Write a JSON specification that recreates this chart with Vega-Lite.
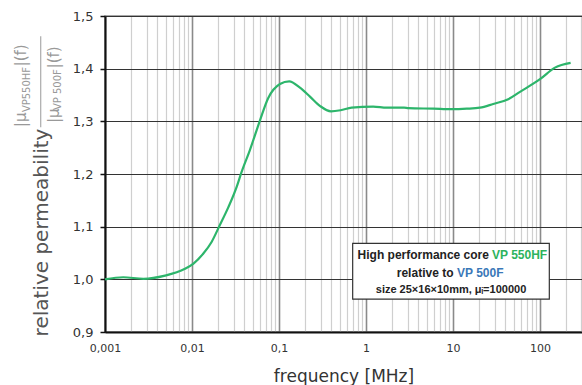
{
  "$schema": "https://vega.github.io/schema/vega-lite/v6.json",
  "width": 477,
  "height": 316,
  "autosize": {"type": "none"},
  "padding": {"left": 105, "top": 16, "right": 0, "bottom": 53},
  "background": "white",
  "config": {"view": {"stroke": "#8a8a8a", "strokeWidth": 1.5}, "font": "DejaVu Sans"},
  "datasets": {
    "curve": [
      {"f": 0.001, "v": 1.0},
      {"f": 0.00162, "v": 1.004},
      {"f": 0.00276, "v": 1.001},
      {"f": 0.0049, "v": 1.007},
      {"f": 0.0083, "v": 1.02},
      {"f": 0.0104, "v": 1.03},
      {"f": 0.0135, "v": 1.049},
      {"f": 0.0168, "v": 1.071},
      {"f": 0.0209, "v": 1.103},
      {"f": 0.0262, "v": 1.137},
      {"f": 0.0327, "v": 1.176},
      {"f": 0.037, "v": 1.203},
      {"f": 0.0464, "v": 1.246},
      {"f": 0.0605, "v": 1.302},
      {"f": 0.075, "v": 1.344},
      {"f": 0.1026, "v": 1.371},
      {"f": 0.131, "v": 1.376},
      {"f": 0.174, "v": 1.364},
      {"f": 0.227, "v": 1.347},
      {"f": 0.297, "v": 1.329},
      {"f": 0.396, "v": 1.319},
      {"f": 0.51, "v": 1.321},
      {"f": 0.685, "v": 1.326},
      {"f": 1.21, "v": 1.328},
      {"f": 1.73, "v": 1.326},
      {"f": 2.74, "v": 1.326},
      {"f": 3.07, "v": 1.325},
      {"f": 5.94, "v": 1.324},
      {"f": 9.67, "v": 1.323},
      {"f": 14.4, "v": 1.324},
      {"f": 20.4, "v": 1.326},
      {"f": 29, "v": 1.333},
      {"f": 43.2, "v": 1.342},
      {"f": 58.9, "v": 1.356},
      {"f": 100, "v": 1.38},
      {"f": 148.6, "v": 1.402},
      {"f": 225, "v": 1.411}
    ],
    "box": [{"f": 0.703, "f2": 128, "v": 1.0683, "v2": 0.9626}],
    "darkText": [
      {"f": 25.9, "v": 1.0461, "t": "High performance core"},
      {"f": 10.13, "v": 1.0114, "t": "relative to"}
    ],
    "greenText": [{"f": 28.1, "v": 1.0461, "t": "VP 550HF"}],
    "blueText": [{"f": 11.12, "v": 1.0114, "t": "VP 500F"}],
    "sizeText": [{"f": 9.49, "v": 0.9797, "t": "size 25×16×10mm, μᵢ=100000"}],
    "fracLine": [{"f": 0.0001824, "v": 1.4617, "v2": 1.289}],
    "fracMain": [
      {"f": 0.0001097, "v": 1.289, "t": "|μ"},
      {"f": 0.0001097, "v": 1.4043, "t": "|(f)"},
      {"f": 0.000256, "v": 1.2966, "t": "|μ"},
      {"f": 0.000256, "v": 1.4005, "t": "|(f)"}
    ],
    "fracSub": [
      {"f": 0.0001269, "v": 1.3175, "t": "VP550HF"},
      {"f": 0.0002883, "v": 1.3213, "t": "VP 500F"}
    ]
  },
  "layer": [
    {
      "data": {"name": "box"},
      "mark": {"type": "rect", "fill": "white", "stroke": "#333333", "strokeWidth": 1.2},
      "encoding": {
        "x": {"field": "f", "type": "quantitative", "scale": {"type": "log", "domain": [0.001, 304], "nice": false},
          "axis": {
            "title": "frequency [MHz]", "titleFont": "DejaVu Sans", "titleFontSize": 17, "titleFontWeight": "normal", "titleColor": "#333333", "titlePadding": 15,
            "values": [0.001, 0.002, 0.003, 0.004, 0.005, 0.006, 0.007, 0.008, 0.009, 0.01, 0.02, 0.03, 0.04, 0.05, 0.06, 0.07, 0.08, 0.09, 0.1, 0.2, 0.3, 0.4, 0.5, 0.6, 0.7, 0.8, 0.9, 1, 2, 3, 4, 5, 6, 7, 8, 9, 10, 20, 30, 40, 50, 60, 70, 80, 90, 100, 200, 300],
            "labelExpr": "abs(log(datum.value)/LN10 - round(log(datum.value)/LN10)) < 0.001 ? replace(format(datum.value, '~g'), '.', ',') : ''",
            "labelFont": "DejaVu Sans", "labelFontSize": 11, "labelColor": "#333333", "labelPadding": 10,
            "labelOverlap": false, "labelFlush": false, "labelBound": false,
            "ticks": false, "tickSize": 0, "domainColor": "#111111", "domainWidth": 2,
            "grid": true,
            "gridColor": {"condition": {"test": "abs(log(datum.value)/LN10 - round(log(datum.value)/LN10)) < 0.001", "value": "#8a8a8a"}, "value": "#cfcfcf"},
            "gridWidth": {"condition": {"test": "abs(log(datum.value)/LN10 - round(log(datum.value)/LN10)) < 0.001", "value": 1.6}, "value": 1.2}
          }},
        "x2": {"field": "f2"},
        "y": {"field": "v", "type": "quantitative", "scale": {"domain": [0.9, 1.5], "nice": false, "zero": false},
          "axis": {
            "title": "relative permeability", "titleFont": "DejaVu Sans", "titleFontSize": 20, "titleFontWeight": "normal", "titleColor": "#555555",
            "titleAngle": 270, "titleX": -58, "titleY": 216, "titleAlign": "center", "titleBaseline": "alphabetic",
            "values": [0.9, 0.95, 1.0, 1.05, 1.1, 1.15, 1.2, 1.25, 1.3, 1.35, 1.4, 1.45, 1.5],
            "labelExpr": "abs(datum.value*10 - round(datum.value*10)) < 0.01 ? replace(format(datum.value, '.1f'), '.', ',') : ''",
            "labelFont": "DejaVu Sans", "labelFontSize": 13, "labelColor": "#333333", "labelPadding": 7,
            "tickSize": 5, "tickWidth": 1.5,
            "tickColor": {"condition": {"test": "abs(datum.value*10 - round(datum.value*10)) < 0.01", "value": "#111111"}, "value": "transparent"},
            "domainColor": "#111111", "domainWidth": 2,
            "grid": true,
            "gridColor": {"condition": {"test": "abs(datum.value*10 - round(datum.value*10)) < 0.01", "value": "#333333"}, "value": "#cfcfcf"},
            "gridWidth": 1.1
          }},
        "y2": {"field": "v2"}
      }
    },
    {
      "data": {"name": "darkText"},
      "mark": {"type": "text", "font": "Liberation Sans", "fontWeight": "bold", "fontSize": 12, "color": "#222222", "align": "right", "baseline": "middle"},
      "encoding": {
        "x": {"field": "f", "type": "quantitative", "scale": {"type": "log", "domain": [0.001, 304], "nice": false}},
        "y": {"field": "v", "type": "quantitative", "scale": {"domain": [0.9, 1.5], "nice": false, "zero": false}},
        "text": {"field": "t"}
      }
    },
    {
      "data": {"name": "greenText"},
      "mark": {"type": "text", "font": "Liberation Sans", "fontWeight": "bold", "fontSize": 12, "color": "#2db35c", "align": "left", "baseline": "middle"},
      "encoding": {
        "x": {"field": "f", "type": "quantitative", "scale": {"type": "log", "domain": [0.001, 304], "nice": false}},
        "y": {"field": "v", "type": "quantitative", "scale": {"domain": [0.9, 1.5], "nice": false, "zero": false}},
        "text": {"field": "t"}
      }
    },
    {
      "data": {"name": "blueText"},
      "mark": {"type": "text", "font": "Liberation Sans", "fontWeight": "bold", "fontSize": 12, "color": "#3a78b8", "align": "left", "baseline": "middle"},
      "encoding": {
        "x": {"field": "f", "type": "quantitative", "scale": {"type": "log", "domain": [0.001, 304], "nice": false}},
        "y": {"field": "v", "type": "quantitative", "scale": {"domain": [0.9, 1.5], "nice": false, "zero": false}},
        "text": {"field": "t"}
      }
    },
    {
      "data": {"name": "sizeText"},
      "mark": {"type": "text", "font": "Liberation Sans", "fontWeight": "bold", "fontSize": 11, "color": "#222222", "align": "center", "baseline": "middle"},
      "encoding": {
        "x": {"field": "f", "type": "quantitative", "scale": {"type": "log", "domain": [0.001, 304], "nice": false}},
        "y": {"field": "v", "type": "quantitative", "scale": {"domain": [0.9, 1.5], "nice": false, "zero": false}},
        "text": {"field": "t"}
      }
    },
    {
      "data": {"name": "fracLine"},
      "mark": {"type": "rule", "color": "#aaaaaa", "strokeWidth": 1.2},
      "encoding": {
        "x": {"field": "f", "type": "quantitative", "scale": {"type": "log", "domain": [0.001, 304], "nice": false}},
        "y": {"field": "v", "type": "quantitative", "scale": {"domain": [0.9, 1.5], "nice": false, "zero": false}},
        "y2": {"field": "v2"}
      }
    },
    {
      "data": {"name": "fracMain"},
      "mark": {"type": "text", "font": "DejaVu Sans", "fontSize": 15, "color": "#999999", "align": "left", "baseline": "middle", "angle": 270},
      "encoding": {
        "x": {"field": "f", "type": "quantitative", "scale": {"type": "log", "domain": [0.001, 304], "nice": false}},
        "y": {"field": "v", "type": "quantitative", "scale": {"domain": [0.9, 1.5], "nice": false, "zero": false}},
        "text": {"field": "t"}
      }
    },
    {
      "data": {"name": "fracSub"},
      "mark": {"type": "text", "font": "DejaVu Sans", "fontSize": 10, "color": "#999999", "align": "left", "baseline": "middle", "angle": 270},
      "encoding": {
        "x": {"field": "f", "type": "quantitative", "scale": {"type": "log", "domain": [0.001, 304], "nice": false}},
        "y": {"field": "v", "type": "quantitative", "scale": {"domain": [0.9, 1.5], "nice": false, "zero": false}},
        "text": {"field": "t"}
      }
    },
    {
      "data": {"name": "curve"},
      "mark": {"type": "line", "color": "#2db56b", "strokeWidth": 2.2, "interpolate": "monotone"},
      "encoding": {
        "x": {"field": "f", "type": "quantitative", "scale": {"type": "log", "domain": [0.001, 304], "nice": false}},
        "y": {"field": "v", "type": "quantitative", "scale": {"domain": [0.9, 1.5], "nice": false, "zero": false}}
      }
    }
  ]
}
